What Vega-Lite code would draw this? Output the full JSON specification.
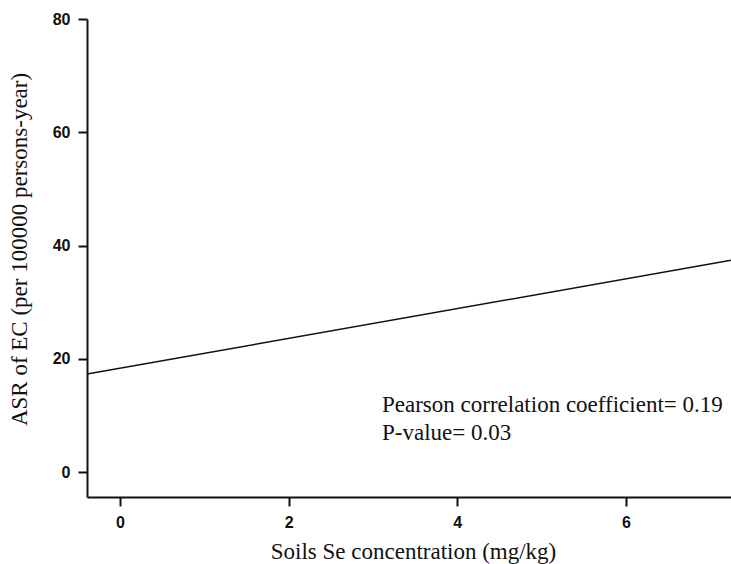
{
  "$schema": "https://vega.github.io/schema/vega-lite/v6.json",
  "width": 644,
  "height": 478,
  "autosize": "none",
  "padding": {"left": 87, "top": 19, "right": 0, "bottom": 67},
  "background": "white",
  "config": {"view": {"stroke": null}},
  "datasets": {
    "fit": [
      {"se": -0.39, "asr": 17.3},
      {"se": 7.245, "asr": 37.4}
    ],
    "notes": [
      {"se": 3.107, "asr": 10.6, "label": "Pearson correlation coefficient= 0.19"},
      {"se": 3.107, "asr": 5.65, "label": "P-value= 0.03"}
    ]
  },
  "layer": [
    {
      "data": {"name": "fit"},
      "mark": {"type": "line", "color": "#111", "strokeWidth": 1.5, "clip": true},
      "encoding": {
        "x": {
          "field": "se", "type": "quantitative",
          "scale": {"domain": [-0.39, 7.245], "nice": false, "zero": false},
          "axis": {
            "title": "Soils Se concentration (mg/kg)",
            "values": [0, 2, 4, 6],
            "format": "d",
            "grid": false,
            "domainColor": "#111", "domainWidth": 2,
            "tickColor": "#111", "tickWidth": 2, "tickSize": 9,
            "labelFont": "'Liberation Sans', Arial, sans-serif", "labelFontWeight": "bold", "labelFontSize": 16, "labelColor": "#111",
            "labelPadding": 8,
            "titleFont": "'Liberation Serif', 'Times New Roman', serif", "titleFontWeight": "normal", "titleFontSize": 23, "titleColor": "#111",
            "titleX": 326, "titleY": 61, "titleBaseline": "alphabetic", "titleAlign": "center"
          }
        },
        "y": {
          "field": "asr", "type": "quantitative",
          "scale": {"domain": [-4.4, 80], "nice": false, "zero": false},
          "axis": {
            "title": "ASR of EC (per 100000 persons-year)",
            "values": [0, 20, 40, 60, 80],
            "grid": false,
            "domainColor": "#111", "domainWidth": 2,
            "tickColor": "#111", "tickWidth": 2, "tickSize": 9,
            "labelFont": "'Liberation Sans', Arial, sans-serif", "labelFontWeight": "bold", "labelFontSize": 16, "labelColor": "#111",
            "labelPadding": 8,
            "titleFont": "'Liberation Serif', 'Times New Roman', serif", "titleFontWeight": "normal", "titleFontSize": 23, "titleColor": "#111",
            "titleX": -68, "titleY": 230, "titleBaseline": "middle", "titleAlign": "center", "titleAngle": -90
          }
        }
      }
    },
    {
      "data": {"name": "notes"},
      "mark": {"type": "text", "align": "left", "baseline": "alphabetic", "font": "'Liberation Serif', 'Times New Roman', serif", "fontSize": 23, "color": "#111"},
      "encoding": {
        "x": {"field": "se", "type": "quantitative"},
        "y": {"field": "asr", "type": "quantitative"},
        "text": {"field": "label"}
      }
    }
  ]
}
